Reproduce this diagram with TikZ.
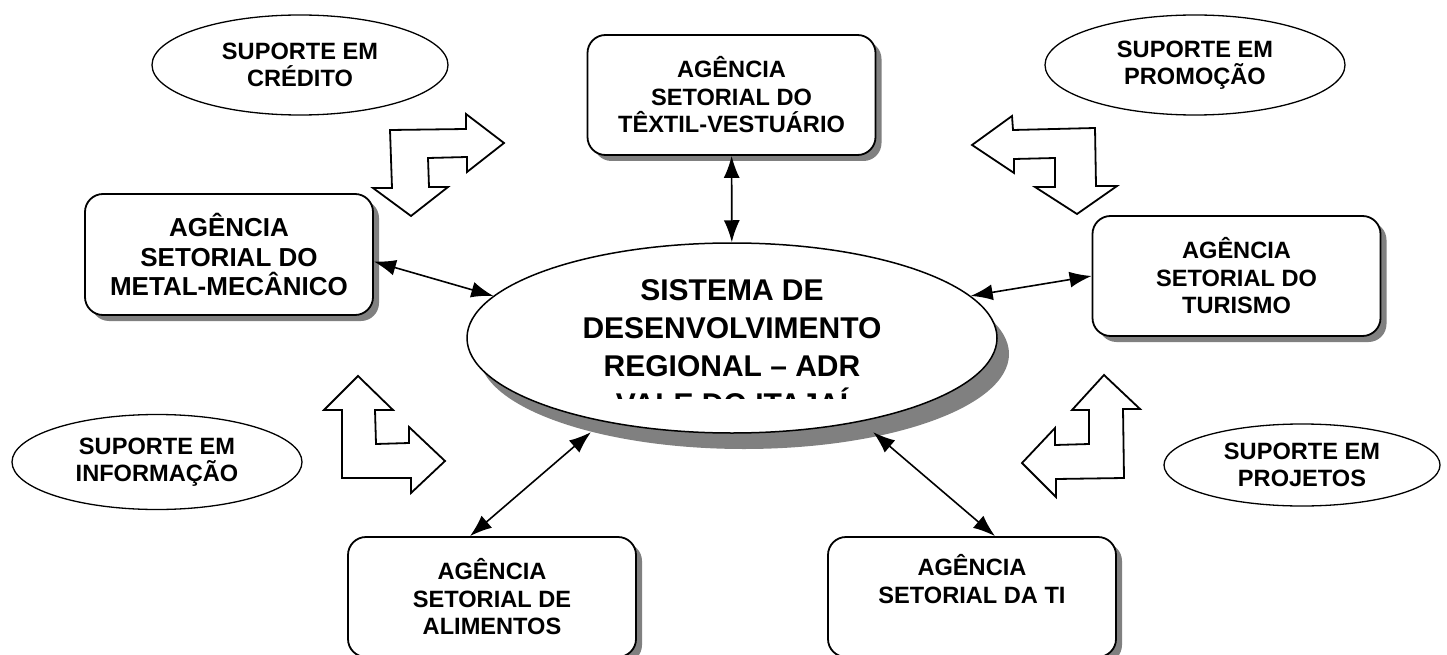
\documentclass[tikz,border=0pt]{standalone}
\usepackage{fontspec}
\setmainfont{Liberation Sans}
\usepackage{tikz}
\usetikzlibrary{
        arrows.meta,
        shadows,
        shapes
    }

\begin{document}
\begin{tikzpicture}[x=1pt, y=-1pt,
baseshape/.style={draw=black, fill=white, text centered, align=center, font=\fontsize{23.6}{27.5}\selectfont\bfseries},
agencia/.style={baseshape, rectangle, rounded corners=18pt, line width=1.8pt, minimum width=288pt, minimum height=120pt, drop shadow={shadow xshift=6pt, shadow yshift=-6pt, fill=black!50, opacity=1}},
suporte/.style={baseshape, ellipse, line width=1.3pt, inner sep=0pt},
central/.style={baseshape, ellipse, line width=1.5pt, inner sep=0pt, minimum width=530pt, minimum height=190pt, drop shadow={shadow xshift=12pt, shadow yshift=-16pt, fill=black!50, opacity=1}},
bent/.style={draw=black, fill=white, line width=1.8pt},
arrow/.style={line width=1.6pt, {Latex[length=22pt,width=16pt]}-{Latex[length=22pt,width=16pt]}},
]
\useasboundingbox (0,0) rectangle (1447,655);

\node (texto) [agencia] at (731.5,95) {AGÊNCIA\\SETORIAL DO\\TÊXTIL-VESTUÁRIO};
\node (metal) [agencia, minimum height=121pt, font=\fontsize{26}{29.5}\selectfont\bfseries] at (229,254.5) {AGÊNCIA\\SETORIAL DO\\METAL-MECÂNICO};
\node (turismo) [agencia] at (1236.5,276) {AGÊNCIA\\SETORIAL DO\\TURISMO};
\node (alimentos) [agencia] at (492,597) {AGÊNCIA\\SETORIAL DE\\ALIMENTOS};
\node (ti) [agencia] at (972,597) {AGÊNCIA\\SETORIAL DA TI\\\strut};

\node (credito) [suporte, minimum width=296pt, minimum height=100pt] at (300,65) {SUPORTE EM\\CRÉDITO};
\node (promocao) [suporte, minimum width=300pt, minimum height=100pt] at (1195,65) {SUPORTE EM\\PROMOÇÃO};
\node (informacao) [suporte, minimum width=290pt, minimum height=95pt] at (157,462) {SUPORTE EM\\INFORMAÇÃO};
\node (projetos) [suporte, minimum width=276pt, minimum height=82pt] at (1302,465) {SUPORTE EM\\PROJETOS};

\node (adr) [central] at (732,338) {};
\begin{scope}
\clip (467,235) rectangle (1000,398);
\node (adrtexto) [anchor=north, align=center, font=\fontsize{30}{38}\selectfont\bfseries] at (732,276) {SISTEMA DE\\DESENVOLVIMENTO\\REGIONAL – ADR\\VALE DO ITAJAÍ};
\end{scope}

\draw[arrow] (texto) -- (adr);
\draw[arrow] ([yshift=-7pt]metal.east) -- (adr.170);
\draw[arrow] (turismo.west) -- (adr.10);
\draw[arrow, shorten >=16pt] ([xshift=-22pt]alimentos.north) -- (adr.213);
\draw[arrow, shorten >=16pt] ([xshift=23pt]ti.north) -- (adr.327);

\draw[bent] (390,130) -- (466,129) -- (466,114) -- (504,143) -- (467,172) -- (467,157) -- (428,158) -- (429,187) -- (448,187) -- (411,216) -- (373,188) -- (392,188) -- cycle;
\draw[bent] (972,145) -- (1012,116) -- (1013,130) -- (1095,128) -- (1096,186) -- (1117,186) -- (1077,214) -- (1035,187) -- (1055,187) -- (1055,158) -- (1014,159) -- (1014,173) -- cycle;
\draw[bent] (358,376) -- (393,410) -- (375,410) -- (376,444) -- (409,443) -- (409,427) -- (445,461) -- (411,493) -- (411,478) -- (342,478) -- (342,410) -- (324,410) -- cycle;
\draw[bent] (1104,375) -- (1140,409) -- (1123,409) -- (1124,478) -- (1056,479) -- (1056,497) -- (1022,463) -- (1055,428) -- (1055,445) -- (1089,444) -- (1089,410) -- (1072,410) -- cycle;

\end{tikzpicture}
\end{document}
